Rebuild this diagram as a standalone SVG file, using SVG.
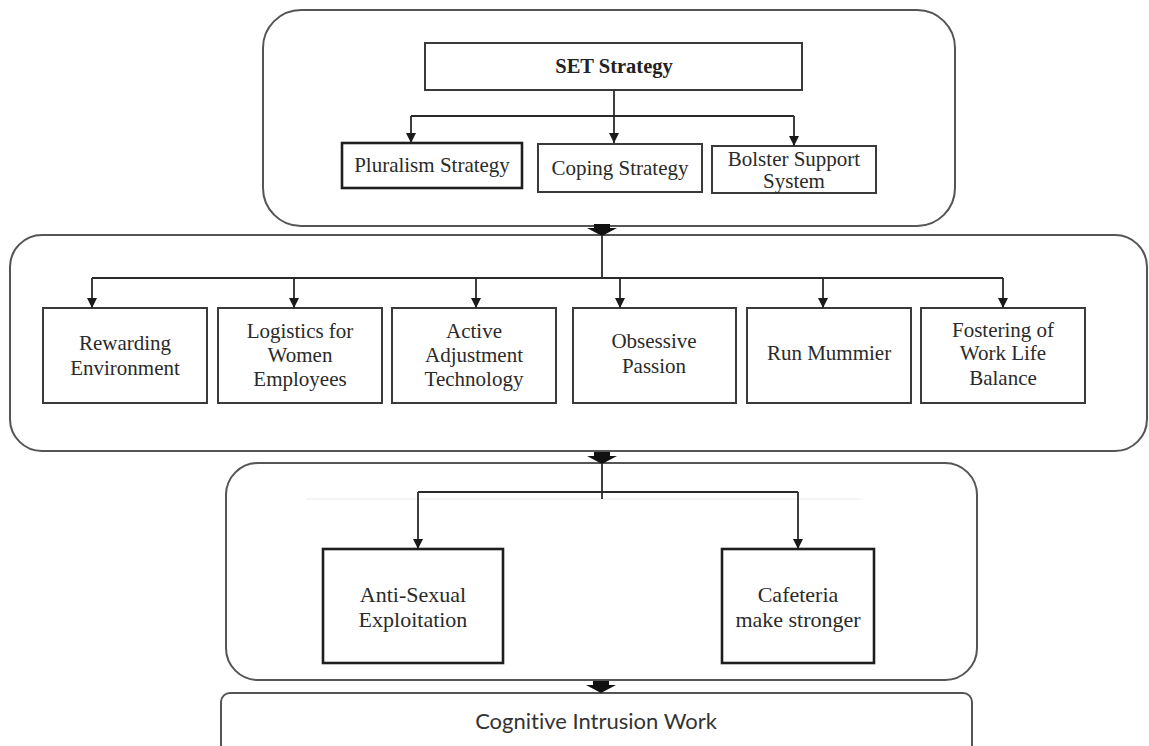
<svg xmlns="http://www.w3.org/2000/svg" width="1149" height="746" viewBox="0 0 1149 746">
  <style>
    .panel { fill: #ffffff; stroke: #555555; stroke-width: 2; }
    .box { fill: #ffffff; stroke: #3a3a3a; stroke-width: 2; }
    .box-strong { fill: #ffffff; stroke: #1e1e1e; stroke-width: 2.6; }
    .link { fill: none; stroke: #2a2a2a; stroke-width: 1.8; }
    .faint { fill: none; stroke: #ececec; stroke-width: 1.2; }
    .block { fill: #111111; stroke: none; }
    .serif { font-family: "Liberation Serif", "Times New Roman", serif; font-size: 21px; fill: #2a2a2a; text-anchor: middle; }
    .serif-lg { font-family: "Liberation Serif", "Times New Roman", serif; font-size: 22px; fill: #2a2a2a; text-anchor: middle; }
    .title { font-family: "Liberation Serif", "Times New Roman", serif; font-size: 20.5px; font-weight: bold; fill: #222222; text-anchor: middle; }
    .sans { font-family: Lato, "Open Sans", "Liberation Sans", sans-serif; font-size: 22px; fill: #333333; text-anchor: middle; font-variant-ligatures: none; }
  </style>
  <defs>
    <marker id="arrow" viewBox="0 0 10 10" refX="10" refY="5" markerWidth="10" markerHeight="11" markerUnits="userSpaceOnUse" orient="auto">
      <path d="M0,0 L10,5 L0,10 Z" fill="#1a1a1a"/>
    </marker>
    <!-- chunky down arrow joining stacked panels, tip at (0,0) -->
    <path id="blockDown" d="M-8,-12 L8,-12 L8,-8 L15,-8 L0,0 L-15,-8 L-8,-8 Z"/>
  </defs>

  <rect width="1149" height="746" fill="#ffffff"/>

  <!-- tier panels -->
  <g id="panel-set">
    <rect class="panel" x="263" y="10" width="692" height="216" rx="38"/>
  </g>
  <g id="panel-practices">
    <rect class="panel" x="10" y="235" width="1137" height="216" rx="32"/>
  </g>
  <g id="panel-protection">
    <rect class="panel" x="226" y="463" width="751" height="217" rx="32"/>
  </g>
  <g id="panel-outcome">
    <rect class="panel" x="221" y="693" width="751" height="70" rx="9"/>
    <text class="sans" x="596" y="729">Cognitive Intrusion Work</text>
  </g>

  <!-- tier 1 -->
  <g id="set-strategy">
    <rect class="box" x="425" y="43" width="377" height="47"/>
    <text class="title" x="614" y="73">SET Strategy</text>
  </g>
  <g id="pluralism-strategy">
    <rect class="box-strong" x="342" y="143" width="180" height="45"/>
    <text class="serif" x="432" y="172">Pluralism Strategy</text>
  </g>
  <g id="coping-strategy">
    <rect class="box" x="538" y="144" width="164" height="48"/>
    <text class="serif" x="620" y="175">Coping Strategy</text>
  </g>
  <g id="bolster-support">
    <rect class="box" x="712" y="146" width="164" height="47"/>
    <text class="serif" x="794" y="166">Bolster Support</text>
    <text class="serif" x="794" y="188">System</text>
  </g>

  <!-- tier 2 -->
  <g id="rewarding-environment">
    <rect class="box" x="43" y="308" width="164" height="95"/>
    <text class="serif" x="125" y="350">Rewarding</text>
    <text class="serif" x="125" y="375">Environment</text>
  </g>
  <g id="logistics-women">
    <rect class="box" x="218" y="308" width="164" height="95"/>
    <text class="serif" x="300" y="338">Logistics for</text>
    <text class="serif" x="300" y="362">Women</text>
    <text class="serif" x="300" y="386">Employees</text>
  </g>
  <g id="active-adjustment">
    <rect class="box" x="392" y="308" width="164" height="95"/>
    <text class="serif" x="474" y="338">Active</text>
    <text class="serif" x="474" y="362">Adjustment</text>
    <text class="serif" x="474" y="386">Technology</text>
  </g>
  <g id="obsessive-passion">
    <rect class="box" x="573" y="308" width="163" height="95"/>
    <text class="serif" x="654" y="348">Obsessive</text>
    <text class="serif" x="654" y="373">Passion</text>
  </g>
  <g id="run-mummier">
    <rect class="box" x="747" y="308" width="164" height="95"/>
    <text class="serif" x="829" y="360">Run Mummier</text>
  </g>
  <g id="work-life-balance">
    <rect class="box" x="921" y="308" width="164" height="95"/>
    <text class="serif" x="1003" y="337">Fostering of</text>
    <text class="serif" x="1003" y="360">Work Life</text>
    <text class="serif" x="1003" y="385">Balance</text>
  </g>

  <!-- tier 3 -->
  <g id="anti-sexual-exploitation">
    <rect class="box-strong" x="323" y="549" width="180" height="114"/>
    <text class="serif-lg" x="413" y="602">Anti-Sexual</text>
    <text class="serif-lg" x="413" y="627">Exploitation</text>
  </g>
  <g id="cafeteria">
    <rect class="box-strong" x="722" y="549" width="152" height="114"/>
    <text class="serif-lg" x="798" y="602">Cafeteria</text>
    <text class="serif-lg" x="798" y="627">make stronger</text>
  </g>

  <!-- connectors -->
  <g id="connectors">
    <!-- SET Strategy fan-out -->
    <path class="link" d="M614,90 V143" marker-end="url(#arrow)"/>
    <path class="link" d="M411,116 H794"/>
    <path class="link" d="M411,116 V143" marker-end="url(#arrow)"/>
    <path class="link" d="M794,116 V146" marker-end="url(#arrow)"/>

    <!-- panel to panel -->
    <use href="#blockDown" class="block" x="602" y="236"/>
    <use href="#blockDown" class="block" x="602" y="464"/>
    <use href="#blockDown" class="block" x="601" y="693"/>

    <!-- practices fan-out -->
    <path class="link" d="M602,235 V278"/>
    <path class="link" d="M92,278 H1003"/>
    <path class="link" d="M92,278 V308" marker-end="url(#arrow)"/>
    <path class="link" d="M294,278 V308" marker-end="url(#arrow)"/>
    <path class="link" d="M476,278 V308" marker-end="url(#arrow)"/>
    <path class="link" d="M620,278 V308" marker-end="url(#arrow)"/>
    <path class="link" d="M823,278 V308" marker-end="url(#arrow)"/>
    <path class="link" d="M1003,278 V308" marker-end="url(#arrow)"/>

    <!-- protection fan-out -->
    <path class="faint" d="M306,499 H863"/>
    <path class="link" d="M602,463 V499"/>
    <path class="link" d="M418,492 H798"/>
    <path class="link" d="M418,492 V549" marker-end="url(#arrow)"/>
    <path class="link" d="M798,492 V549" marker-end="url(#arrow)"/>
  </g>
</svg>
